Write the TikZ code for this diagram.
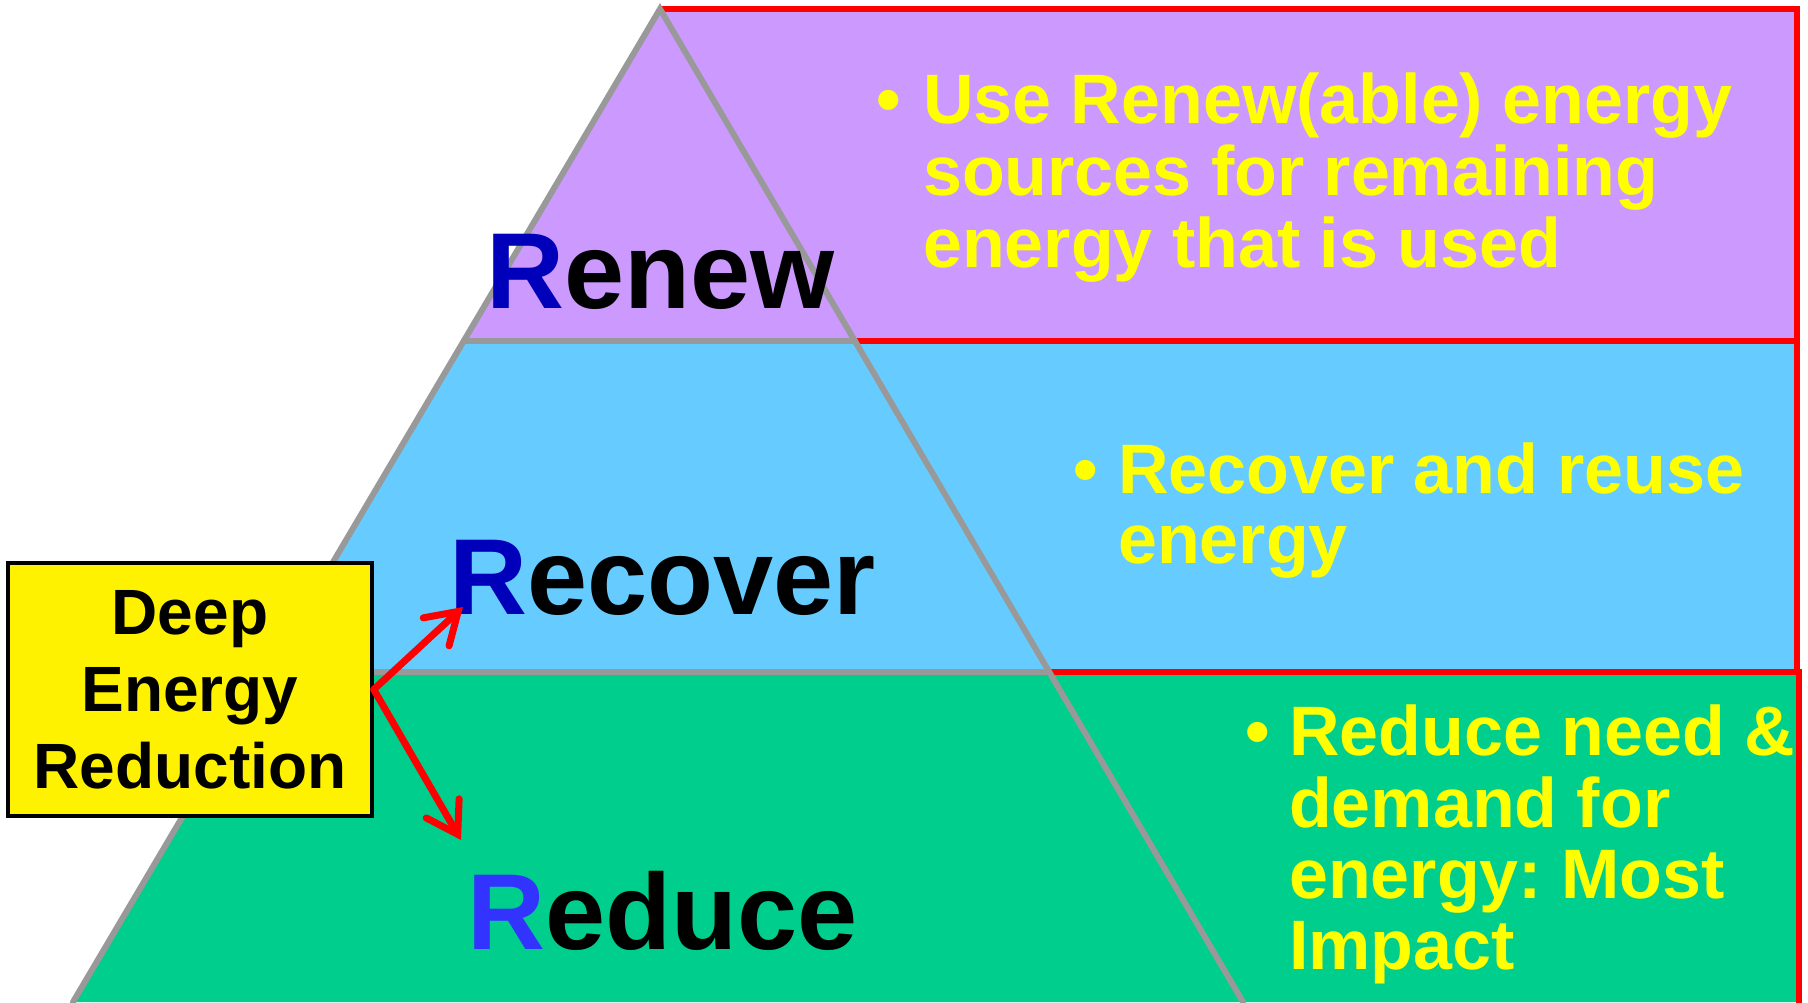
\documentclass[tikz,border=0pt]{standalone}
\usepackage{fontspec}
\setmainfont{Liberation Sans}
\usetikzlibrary{arrows.meta}
\frenchspacing
\definecolor{purp}{HTML}{CC99FF}
\definecolor{sky}{HTML}{66CCFF}
\definecolor{grn}{HTML}{00CE8C}
\definecolor{rdark}{HTML}{0000BB}
\definecolor{rbright}{HTML}{3333FF}
\definecolor{edgegrey}{HTML}{999999}
\definecolor{bordred}{HTML}{FF0000}
\definecolor{txtyellow}{HTML}{FFFF00}
\tikzset{
  redline/.style={draw=bordred, line width=6.5pt},
  greyline/.style={draw=edgegrey, line width=6pt, line cap=round},
  bigword/.style={anchor=base west, inner sep=0pt, font=\fontsize{108}{120}\selectfont\bfseries},
  bultxt/.style={anchor=base west, inner sep=0pt, text=txtyellow, font=\fontsize{70}{72}\selectfont\bfseries},
  derbox/.style={draw=black, line width=3.5pt, fill=yellow, minimum width=364pt, minimum height=253pt,
    inner sep=0pt, align=center, font=\fontsize{64}{77}\selectfont\bfseries},
  redarrow/.style={draw=bordred, line width=7pt, line cap=round,
    -{Straight Barb[length=30pt,width=38pt,line cap=round]}}
}
\begin{document}
\begin{tikzpicture}[x=1pt,y=-1pt]
\useasboundingbox (0,0) rectangle (1808,1002);
\fill[white] (0,0) rectangle (1808,1002);
% bands
\fill[purp] (660,9) -- (1797,9) -- (1797,341) -- (464,341) -- cycle;
\fill[sky] (464,341) -- (1797,341) -- (1797,672) -- (268,672) -- cycle;
\fill[grn] (268,672) -- (1799,672) -- (1799,1002) -- (73,1002) -- cycle;
% red borders
\draw[redline] (660,9) -- (1797,9) -- (1797,672);
\draw[redline] (855,341) -- (1797,341);
\draw[redline] (1049,672) -- (1799,672) -- (1799,1004);
% grey pyramid lines
\draw[greyline] (73,1002) -- (660,9) -- (1243,1002);
\draw[greyline] (464,341) -- (855,341);
\draw[greyline] (268,672) -- (1049,672);
% big words
\node[bigword] (renew) at (486,308) {\textcolor{rdark}{R}enew};
\node[bigword] (recover) at (449,614) {\textcolor{rdark}{R}ecover};
\node[bigword] (reduce) at (467,949) {\textcolor{rbright}{R}educe};
% bullet texts
\node[bultxt] (b1) at (876,123) {•};
\node[bultxt] (t11) at (923,123) {Use Renew(able) energy};
\node[bultxt] (t12) at (923,195) {sources for remaining};
\node[bultxt] (t13) at (923,267) {energy that is used};
\node[bultxt] (b2) at (1073,493) {•};
\node[bultxt] (t21) at (1118,493) {Recover and reuse};
\node[bultxt] (t22) at (1118,563) {energy};
\node[bultxt] (b3) at (1245,755) {•};
\node[bultxt] (t31) at (1289,755) {Reduce need \&};
\node[bultxt] (t32) at (1289,827) {demand for};
\node[bultxt] (t33) at (1289,898) {energy: Most};
\node[bultxt] (t34) at (1289,969) {Impact};
% box and arrows
\node[derbox] (der) at (190,689.5) {Deep\\Energy\\Reduction};
\coordinate (tipA) at (463,607);
\coordinate (tipB) at (461,840);
\draw[redarrow] (der.east) -- (tipA);
\draw[redarrow] (der.east) -- (tipB);
\end{tikzpicture}
\end{document}
